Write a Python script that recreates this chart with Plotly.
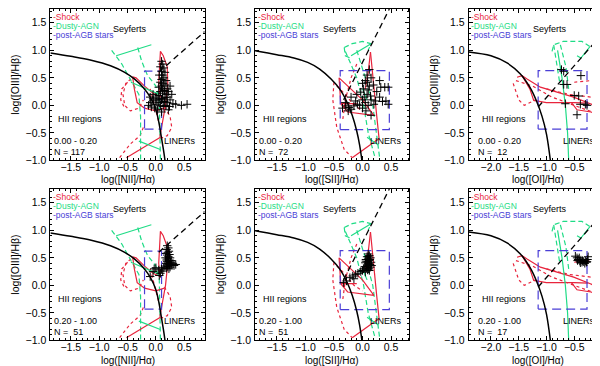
import plotly.graph_objects as go

# ---------------- data ----------------
X_TITLES = ['log([NII]/Hα)', 'log([SII]/Hα)', 'log([OI]/Hα)']
Y_TITLE = 'log([OIII]/Hβ)'
X_RANGES = [[-1.86, 0.86], [-1.88, 0.82], [-2.4, 0.09]]
Y_RANGE = [-1.0, 1.75]
BIN_LABELS = ['0.00 - 0.20', '0.20 - 1.00']
N_LABELS = ['N = 117', 'N =  72', 'N =  12', 'N =  51', 'N =  51', 'N =  17']

# max starburst curves
NII_CURVE = [(-1.86, 0.95), (-1.5, 0.89), (-1.14, 0.82), (-0.8, 0.72), (-0.55, 0.6), (-0.38, 0.48),
             (-0.22, 0.32), (-0.1, 0.15), (0.0, -0.08), (0.06, -0.35), (0.1, -0.6), (0.14, -0.85), (0.16, -1.0)]
SII_CURVE = [(-1.88, 0.99), (-1.5, 0.92), (-1.2, 0.86), (-0.96, 0.78), (-0.75, 0.66), (-0.55, 0.48),
             (-0.4, 0.3), (-0.28, 0.08), (-0.18, -0.18), (-0.1, -0.47), (-0.05, -0.72), (-0.01, -1.0)]
OI_CURVE = [(-2.4, 0.97), (-2.0, 0.9), (-1.71, 0.77), (-1.47, 0.57), (-1.3, 0.33), (-1.18, 0.08),
            (-1.08, -0.2), (-1.0, -0.52), (-0.93, -1.0)]

# Seyfert / LINER dividing lines
NII_DIVIDE = [(0.05, 0.6), (0.86, 1.34)]
SII_DIVIDE = [(-0.33, 0.1), (0.47, 1.75)]
OI_DIVIDE = [(-1.15, -0.03), (0.09, 1.4)]

# post-AGB boxes (x0, x1, y0, y1)
NII_BOX = (-0.2, 0.1, -0.43, 0.62)
SII_BOX = (-0.39, 0.47, -0.44, 0.63)
OI_BOX = (-1.15, -0.27, -0.43, 0.63)

# shock model grids
NII_SHOCK = [
    [(0.08, 0.98), (0.13, 0.9), (0.2, 0.7), (0.21, 0.4), (0.17, 0.0), (0.12, -0.3), (0.07, -0.57)],
    [(0.08, 0.98), (0.06, 0.7), (0.05, 0.4), (0.07, 0.2)],
    [(-0.41, 0.52), (-0.35, 0.5), (-0.2, 0.35), (-0.05, 0.22), (0.1, 0.15)],
    [(-0.41, 0.52), (-0.38, 0.3), (-0.33, 0.05), (-0.2, -0.05), (0.0, -0.1), (0.15, -0.05)],
    [(-0.52, -0.95), (0.08, -0.58)],
]
NII_SHOCK_DOT = [
    [(-0.44, 0.48), (-0.53, 0.4), (-0.58, 0.2), (-0.55, 0.0), (-0.45, -0.1), (-0.3, -0.05), (-0.22, 0.1)],
    [(-0.5, 0.42), (-0.6, 0.3), (-0.62, 0.1), (-0.55, -0.05)],
    [(-0.64, -0.95), (-0.45, -0.7), (-0.28, -0.55), (-0.2, -0.35)],
    [(0.15, -0.03), (0.25, -0.2), (0.28, -0.4), (0.2, -0.55), (0.08, -0.6)],
    [(-0.1, 0.3), (-0.02, 0.0), (0.05, -0.3)],
]
SII_SHOCK = [
    [(0.14, 0.97), (0.2, 0.4), (0.25, -0.2), (0.29, -0.6)],
    [(0.29, -0.6), (-0.18, -0.95)],
    [(0.14, 0.97), (0.1, 0.6), (0.05, 0.3)],
    [(-0.41, 0.5), (-0.2, 0.3), (0.0, 0.1), (0.2, -0.18), (-0.26, -0.12), (-0.38, 0.03), (-0.41, 0.5)],
    [(-0.38, 0.03), (-0.1, 0.03)],
]
SII_SHOCK_DOT = [
    [(-0.5, 0.42), (-0.52, 0.1), (-0.45, -0.4), (-0.32, -0.8), (-0.18, -0.95)],
    [(-0.1, 0.75), (-0.2, 0.5), (-0.3, 0.1), (-0.35, -0.3)],
    [(-0.45, 0.35), (-0.3, 0.2), (-0.15, 0.0), (0.0, -0.1)],
]
OI_SHOCK = [
    [(-1.53, 0.51), (-1.44, 0.54), (-1.35, 0.48), (-1.11, 0.33), (-0.81, 0.24), (-0.51, 0.15), (-0.21, 0.03), (0.09, -0.12)],
    [(-1.44, 0.54), (-1.3, 0.3), (-1.23, 0.09), (-1.0, 0.05), (-0.5, 0.05), (-0.25, 0.04)],
    [(-0.55, 0.05), (-0.45, -0.08), (-0.2, -0.12), (0.09, -0.2)],
]
OI_SHOCK_DOT = [
    [(-1.6, 0.4), (-1.5, 0.1), (-1.4, 0.0), (-1.2, 0.1)],
    [(-1.55, 0.45), (-1.25, 0.35), (-0.9, 0.15), (-0.5, 0.0), (-0.1, -0.15), (0.09, -0.22)],
    [(-0.5, 0.42), (-0.2, 0.45), (0.09, 0.5)],
    [(-1.0, 0.3), (-0.6, 0.2), (-0.2, 0.15), (0.09, 0.05)],
]

# dusty AGN model grids
NII_AGN = [
    [(-0.7, 0.9), (-0.08, 1.1)],
    [(-0.44, 0.42), (0.06, 0.2)],
    [(-0.3, -0.65), (0.08, -0.8)],
]
NII_AGN_DASH = [
    [(-0.78, 1.0), (-0.6, 0.75), (-0.44, 0.45), (-0.3, 0.2), (-0.27, -0.2), (-0.27, -1.0)],
    [(-0.32, 1.05), (-0.25, 0.8), (-0.15, 0.55), (0.0, 0.35), (0.06, 0.1), (0.07, -0.5), (0.08, -1.0)],
]
SII_AGN = [
    [(-0.2, 0.9), (0.15, 1.12)],
    [(0.08, -0.58), (0.28, -0.72)],
    [(0.0, 0.3), (0.08, 0.1)],
]
SII_AGN_DASH = [
    [(-0.32, 1.05), (-0.18, 1.12), (0.0, 1.16), (0.15, 1.12), (0.1, 1.0)],
    [(-0.3, 0.98), (-0.1, 0.5), (0.02, 0.0), (0.1, -0.5), (0.22, -0.95)],
    [(-0.1, 1.0), (0.05, 0.5), (0.18, 0.0), (0.25, -0.5), (0.3, -0.95)],
    [(-0.32, 1.05), (-0.3, 0.9), (-0.2, 0.85)],
]
OI_AGN = [
    [(-0.8, 1.0), (-0.72, 0.5), (-0.66, 0.0), (-0.62, -0.5), (-0.6, -1.0)],
    [(-0.45, 0.9), (-0.38, 0.86), (-0.22, 1.06)],
]
OI_AGN_DASH = [
    [(-0.9, 0.98), (-0.87, 1.1), (-0.7, 1.16), (-0.36, 1.16), (-0.22, 1.07)],
    [(-0.75, 1.1), (-0.65, 0.7), (-0.6, 0.3)],
    [(-0.87, 1.1), (-0.82, 0.8), (-0.76, 0.4)],
]

# galaxies, one list per panel
P1_PTS = [(0.1, 0.8), (0.12, 0.75), (0.08, 0.7), (0.14, 0.68), (0.1, 0.62), (0.16, 0.6), (0.12, 0.55),
          (0.06, 0.55), (0.14, 0.5), (0.1, 0.47), (0.18, 0.45), (0.08, 0.42), (0.13, 0.4), (0.16, 0.37),
          (0.1, 0.35), (0.05, 0.33), (0.12, 0.3), (0.2, 0.3), (0.15, 0.27), (0.08, 0.25), (0.12, 0.22),
          (0.18, 0.2), (0.22, 0.25), (0.25, 0.35), (-0.1, 0.05), (-0.05, 0.08), (0.0, 0.02), (0.05, 0.05),
          (0.1, 0.1), (0.15, 0.07), (0.2, 0.05), (0.25, 0.1), (0.3, 0.03), (-0.08, -0.03), (-0.02, -0.05),
          (0.03, -0.08), (0.08, 0.0), (0.13, -0.02), (0.18, 0.0), (-0.13, 0.0), (0.0, 0.15), (0.05, 0.18),
          (-0.05, 0.2), (0.2, 0.15), (0.28, 0.2), (0.35, 0.02), (0.45, 0.0), (0.55, 0.02), (0.22, -0.08),
          (0.1, -0.12), (-0.05, 0.12), (0.12, 0.12), (0.16, 0.14), (0.02, 0.1), (0.07, 0.12), (-0.1, 0.15),
          (0.24, -0.02)]
P2_PTS = [(0.12, 0.65), (0.15, 0.5), (0.09, 0.42), (0.05, 0.45), (0.19, 0.37), (0.32, 0.33), (0.39, 0.33),
          (0.45, 0.33), (-0.03, 0.24), (0.08, 0.2), (0.14, 0.17), (0.23, 0.08), (0.35, 0.07), (0.41, 0.08),
          (-0.09, 0.02), (-0.24, -0.04), (-0.15, -0.01), (-0.2, -0.07), (-0.29, -0.01), (0.06, -0.1),
          (0.2, 0.02), (0.0, 0.1), (0.05, 0.05), (0.1, 0.28), (0.02, 0.3), (-0.1, 0.2), (-0.2, 0.15),
          (-0.05, 0.0), (0.0, -0.05), (0.15, 0.1), (0.1, 0.0), (-0.12, 0.08), (0.25, 0.25), (0.3, 0.15),
          (0.45, 0.02), (-0.3, 0.05), (-0.25, -0.1), (0.03, 0.15), (0.12, 0.35), (0.0, 0.4), (-0.35, -0.05),
          (0.15, -0.18), (0.3, 0.45), (0.08, 0.55)]
P3_PTS = [(-0.73, 0.65), (-0.69, 0.62), (-0.38, 0.54), (-0.69, 0.38), (-0.63, 0.38), (-0.42, 0.17),
          (-0.39, 0.02), (-0.27, 0.0), (-0.66, 0.03), (-0.45, -0.17), (-0.5, 0.18), (-0.3, 0.02)]
P4_PTS = [(0.2, 0.72), (0.22, 0.68), (0.19, 0.65), (0.23, 0.62), (0.21, 0.6), (0.18, 0.58), (0.24, 0.56),
          (0.2, 0.55), (0.22, 0.52), (0.17, 0.5), (0.25, 0.5), (0.21, 0.48), (0.19, 0.46), (0.23, 0.45),
          (0.2, 0.43), (0.26, 0.42), (0.18, 0.4), (0.22, 0.4), (0.24, 0.38), (0.2, 0.37), (0.28, 0.37),
          (0.32, 0.36), (0.16, 0.35), (0.21, 0.34), (0.25, 0.33), (0.19, 0.31), (0.23, 0.3), (0.14, 0.32),
          (0.1, 0.3), (0.05, 0.28), (0.0, 0.32), (-0.03, 0.3), (0.08, 0.22), (0.06, 0.18), (-0.1, 0.16),
          (-0.05, 0.25), (0.12, 0.26), (0.3, 0.4), (0.35, 0.38), (0.27, 0.45)]
P5_PTS = [(0.1, 0.57), (0.12, 0.54), (0.08, 0.52), (0.14, 0.5), (0.1, 0.48), (0.06, 0.47), (0.12, 0.45),
          (0.09, 0.43), (0.15, 0.42), (0.05, 0.41), (0.11, 0.4), (0.13, 0.38), (0.08, 0.37), (0.1, 0.35),
          (0.04, 0.34), (0.14, 0.33), (0.07, 0.32), (0.11, 0.3), (0.02, 0.3), (0.09, 0.28), (0.16, 0.36),
          (0.12, 0.27), (0.0, 0.27), (-0.03, 0.25), (0.05, 0.24), (-0.08, 0.22), (-0.12, 0.2), (-0.17, 0.17),
          (-0.22, 0.14), (-0.15, 0.12), (-0.28, 0.08), (-0.33, 0.05), (0.06, 0.44), (0.13, 0.47), (0.1, 0.52)]
P6_PTS = [(-0.48, 0.53), (-0.45, 0.5), (-0.43, 0.47), (-0.41, 0.5), (-0.4, 0.44), (-0.38, 0.46), (-0.36, 0.42),
          (-0.35, 0.45), (-0.33, 0.43), (-0.3, 0.44), (-0.28, 0.42), (-0.26, 0.47), (-0.25, 0.52),
          (-0.27, 0.43), (-0.44, 0.45), (-0.39, 0.41), (-0.31, 0.4)]

# ---------------- styling / layout ----------------
RED = '#e8243c'
GREEN = '#1fdc86'
BLUE = '#4a3ed6'
FONT = 'Liberation Sans, Arial, sans-serif'

X_DOMAINS = [[0.0708, 0.3283], [0.4125, 0.67], [0.7692, 1.0]]
Y_DOMAINS = [[0.5765, 0.9973], [0.0765, 0.4973]]
XTITLE_Y = [1 - 174 / 366, 1 - 358.5 / 366]    # paper y of the x-axis titles, per row
YTITLE_X = [7 / 600, 212 / 600, 426 / 600]      # paper x of the y-axis titles, per column

DIAGRAMS = [
    dict(curve=NII_CURVE, divide=NII_DIVIDE, box=NII_BOX, shock=NII_SHOCK, shock_dot=NII_SHOCK_DOT,
         agn=NII_AGN, agn_dash=NII_AGN_DASH),
    dict(curve=SII_CURVE, divide=SII_DIVIDE, box=SII_BOX, shock=SII_SHOCK, shock_dot=SII_SHOCK_DOT,
         agn=SII_AGN, agn_dash=SII_AGN_DASH),
    dict(curve=OI_CURVE, divide=OI_DIVIDE, box=OI_BOX, shock=OI_SHOCK, shock_dot=OI_SHOCK_DOT,
         agn=OI_AGN, agn_dash=OI_AGN_DASH),
]
PANEL_PTS = [P1_PTS, P2_PTS, P3_PTS, P4_PTS, P5_PTS, P6_PTS]

# text placement inside each panel (fractions of the frame), per column
SEY_X = [0.515, 0.553, 0.59]
HII_X = [0.038, 0.036, 0.08]
LIN_X = [0.955, 0.966, 0.93]
TXT_X = [0.012, 0.012, 0.05]


def line(fig, pts, xa, ya, color, dash='solid', width=1.2, shape='linear'):
    fig.add_trace(go.Scatter(x=[p[0] for p in pts], y=[p[1] for p in pts], mode='lines',
                             line=dict(color=color, dash=dash, width=width, shape=shape),
                             xaxis=xa, yaxis=ya, showlegend=False, hoverinfo='skip'))


fig = go.Figure()
annotations = []
layout = dict(width=600, height=366, margin=dict(l=0, r=0, t=0, b=0),
              paper_bgcolor='white', plot_bgcolor='white', showlegend=False,
              font=dict(family=FONT, color='black', size=10.5))

for i in range(6):
    row, col = divmod(i, 3)
    n = '' if i == 0 else str(i + 1)
    xa, ya = 'x' + n, 'y' + n
    d = DIAGRAMS[col]

    axis_common = dict(showline=True, linecolor='black', linewidth=1, mirror='allticks',
                       ticks='inside', ticklen=4, tickcolor='black', showgrid=False, zeroline=False,
                       dtick=0.5, tick0=0, tickformat='.1f', tickfont=dict(size=10.5),
                       minor=dict(ticks='inside', ticklen=2, dtick=0.1, tickcolor='black', showgrid=False))
    layout['xaxis' + n] = dict(axis_common, domain=X_DOMAINS[col], range=X_RANGES[col], anchor=ya,
                               ticklabelstandoff=-3)
    layout['yaxis' + n] = dict(axis_common, domain=Y_DOMAINS[row], range=Y_RANGE, anchor=xa,
                               ticklabelstandoff=1)

    # model grids
    for pl in d['shock_dot']:
        line(fig, pl, xa, ya, RED, 'dot', 1.2)
    for pl in d['agn_dash']:
        line(fig, pl, xa, ya, GREEN, '5px,3px', 1.2)
    for pl in d['shock']:
        line(fig, pl, xa, ya, RED, 'solid', 1.2)
    for pl in d['agn']:
        line(fig, pl, xa, ya, GREEN, 'solid', 1.2)
    x0, x1, y0, y1 = d['box']
    line(fig, [(x0, y0), (x1, y0), (x1, y1), (x0, y1), (x0, y0)], xa, ya, BLUE, '9px,5px', 1.2)

    # classification lines
    line(fig, d['curve'], xa, ya, 'black', 'solid', 1.5, 'spline')
    line(fig, d['divide'], xa, ya, 'black', '6px,4px', 1.3)

    pts = PANEL_PTS[i]
    fig.add_trace(go.Scatter(x=[p[0] for p in pts], y=[p[1] for p in pts], mode='markers',
                             marker=dict(symbol='cross-thin', size=6, line=dict(color='black', width=1)),
                             xaxis=xa, yaxis=ya, showlegend=False, hoverinfo='skip', cliponaxis=True))

    xd, yd = xa + ' domain', ya + ' domain'

    def txt(text, x, y, xanchor='left', color='black', size=9):
        annotations.append(dict(text=text, x=x, y=y, xref=xd, yref=yd, xanchor=xanchor, yanchor='middle',
                                showarrow=False, font=dict(size=size, color=color, family=FONT)))
    txt('Seyferts', SEY_X[col], 0.866, 'center')
    txt('HII regions', HII_X[col], 0.273)
    txt('LINERs', LIN_X[col], 0.13, 'right')
    txt(BIN_LABELS[row], TXT_X[col], 0.13)
    txt(N_LABELS[i], TXT_X[col], 0.058)
    txt('-Shock', 0.005, 0.95, color=RED, size=8.5)
    txt('-Dusty-AGN', 0.005, 0.89, color=GREEN, size=8.5)
    txt('-post-AGB stars', 0.005, 0.83, color=BLUE, size=8.5)

    # axis titles
    annotations.append(dict(text=X_TITLES[col], x=0.5, y=XTITLE_Y[row], xref=xd, yref='paper',
                            xanchor='center', yanchor='middle', showarrow=False, font=dict(size=10)))
    annotations.append(dict(text=Y_TITLE, x=YTITLE_X[col], y=0.5, xref='paper', yref=yd, textangle=-90,
                            xanchor='center', yanchor='middle', showarrow=False, font=dict(size=10.5)))

layout['annotations'] = annotations
fig.update_layout(**layout)
fig.write_html('out.html')
